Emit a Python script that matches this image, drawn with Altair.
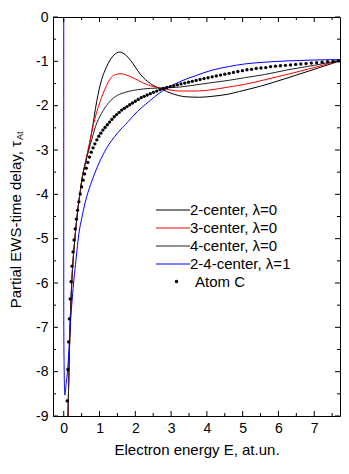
import altair as alt
import pandas as pd

# ---- data ----
E_2c = [0.10,0.12,0.14,0.16,0.18,0.20,0.23,0.26,0.30,0.34,0.40,0.45,0.52,0.60,0.70,0.79,0.92,1.06,1.15,1.24,1.32,1.40,1.48,1.57,1.65,1.72,1.80,1.87,2.00,2.14,2.28,2.42,2.74,3.00,3.42,3.80,4.14,4.60,4.91,5.50,6.27,7.00,7.72]
T_2c = [-9.8,-9.0,-8.2,-7.5,-6.9,-6.45,-5.9,-5.5,-5.1,-4.75,-4.3,-4.0,-3.6,-3.3,-2.95,-2.56,-1.91,-1.41,-1.21,-1.05,-0.94,-0.86,-0.81,-0.79,-0.81,-0.85,-0.91,-0.98,-1.13,-1.29,-1.41,-1.50,-1.63,-1.72,-1.80,-1.81,-1.79,-1.74,-1.68,-1.56,-1.37,-1.18,-0.99]

E_3c = [0.10,0.12,0.14,0.16,0.18,0.20,0.23,0.26,0.30,0.34,0.40,0.45,0.52,0.60,0.70,0.83,0.97,1.15,1.33,1.45,1.60,1.75,1.96,2.20,2.42,2.74,3.00,3.24,3.70,4.14,4.60,5.05,5.60,6.27,7.00,7.72]
T_3c = [-9.8,-9.0,-8.2,-7.5,-6.9,-6.45,-5.9,-5.5,-5.1,-4.75,-4.3,-4.0,-3.6,-3.3,-2.92,-2.42,-2.02,-1.63,-1.36,-1.30,-1.28,-1.31,-1.38,-1.48,-1.55,-1.61,-1.65,-1.67,-1.67,-1.64,-1.58,-1.52,-1.42,-1.29,-1.14,-0.98]

E_4c = [0.10,0.12,0.14,0.16,0.18,0.20,0.23,0.26,0.30,0.34,0.40,0.45,0.52,0.60,0.70,0.79,0.88,1.06,1.24,1.40,1.60,1.80,2.06,2.42,2.74,3.24,3.70,4.14,4.60,5.05,5.60,6.27,7.00,7.72]
T_4c = [-9.8,-9.0,-8.2,-7.5,-6.9,-6.45,-5.9,-5.5,-5.1,-4.75,-4.3,-4.0,-3.62,-3.32,-3.0,-2.75,-2.49,-2.17,-1.95,-1.82,-1.73,-1.68,-1.64,-1.61,-1.60,-1.58,-1.53,-1.48,-1.43,-1.37,-1.30,-1.19,-1.09,-0.98]

E_24 = [0.0,0.001,0.012,0.03,0.07,0.11,0.18,0.25,0.34,0.43,0.50,0.60,0.75,0.88,1.00,1.19,1.50,1.80,2.06,2.33,2.74,3.24,3.70,4.14,4.60,5.05,5.60,6.27,7.00,7.72]
T_24 = [0.0,-6.84,-7.96,-8.53,-8.25,-7.96,-7.0,-6.23,-5.5,-4.85,-4.55,-4.18,-3.78,-3.50,-3.27,-2.97,-2.62,-2.36,-2.13,-1.94,-1.68,-1.46,-1.32,-1.20,-1.12,-1.06,-1.02,-0.99,-0.97,-0.96]

dots_E = [0.097,0.115,0.135,0.157,0.180,0.205,0.231,0.259,0.289,0.320,
          0.353,0.387,0.423,0.461,0.500,0.541,0.583,0.627,0.673,0.720,
          0.769,0.819,0.871,0.925,0.980,1.037,1.095,1.155,1.217,1.280,
          1.345,1.411,1.479,1.549,1.620,1.693,1.767,1.843,1.921,2.000,
          2.081,2.163,2.247,2.333,2.420,2.509,2.599,2.691,2.785,2.880,
          2.977,3.075,3.175,3.277,3.380,3.485,3.591,3.699,3.809,3.920,
          4.033,4.147,4.263,4.381,4.500,4.621,4.743,4.867,4.993,5.120,
          5.249,5.379,5.511,5.645,5.780,5.917,6.055,6.195,6.337,6.480,
          6.625,6.771,6.919,7.069,7.220,7.373,7.527,7.683]
dots_T = [-8.66,-7.95,-7.33,-6.81,-6.36,-5.97,-5.62,-5.30,-5.03,-4.78,
          -4.56,-4.36,-4.17,-3.99,-3.83,-3.68,-3.54,-3.41,-3.28,-3.16,
          -3.05,-2.95,-2.86,-2.77,-2.69,-2.62,-2.55,-2.49,-2.43,-2.37,
          -2.31,-2.25,-2.20,-2.15,-2.10,-2.06,-2.02,-1.98,-1.94,-1.90,
          -1.86,-1.82,-1.79,-1.76,-1.73,-1.70,-1.67,-1.64,-1.61,-1.59,
          -1.57,-1.55,-1.53,-1.51,-1.49,-1.47,-1.45,-1.43,-1.41,-1.39,
          -1.37,-1.35,-1.33,-1.31,-1.29,-1.27,-1.25,-1.23,-1.21,-1.19,
          -1.18,-1.16,-1.15,-1.14,-1.12,-1.11,-1.10,-1.09,-1.08,-1.07,
          -1.06,-1.05,-1.04,-1.03,-1.02,-1.01,-1.00,-0.99]

names = ["2-center, λ=0", "3-center, λ=0", "4-center, λ=0", "2-4-center, λ=1"]
colors = ["#000000", "#ff0000", "#222222", "#0000ff"]
dot_label = "Atom C"

x_major = [0, 1, 2, 3, 4, 5, 6, 7]
x_minor = [0.5, 1.5, 2.5, 3.5, 4.5, 5.5, 6.5, 7.5]
y_major = [0, -1, -2, -3, -4, -5, -6, -7, -8, -9]
y_minor = [-0.5, -1.5, -2.5, -3.5, -4.5, -5.5, -6.5, -7.5, -8.5]

# ---- build tables ----
rows = []
for nm, Es, Ts in zip(names, [E_2c, E_3c, E_4c, E_24], [T_2c, T_3c, T_4c, T_24]):
    assert len(Es) == len(Ts)
    for i, (e, t) in enumerate(zip(Es, Ts)):
        rows.append({"series": nm, "E": e, "tau": t, "i": i})
df = pd.DataFrame(rows)
assert len(dots_E) == len(dots_T)
dfd = pd.DataFrame({"E": dots_E, "tau": dots_T, "lab": dot_label})

W, H = 287, 399
FONT = "Liberation Sans"
xs = alt.Scale(domain=[-0.3, 7.72], nice=False, zero=False)
ys = alt.Scale(domain=[-9, 0], nice=False, zero=False)

x_axis = alt.Axis(title="Electron energy E, at.un.", values=x_major, ticks=False,
                  domain=False, grid=False, labelFont=FONT, labelFontSize=14,
                  labelColor="black", labelPadding=5, labelFlush=False,
                  titleFont=FONT, titleFontSize=15, titleFontWeight="normal",
                  titleColor="black", titlePadding=7)
y_axis = alt.Axis(title=None, values=y_major, ticks=False, domain=False, grid=False,
                  labelFont=FONT, labelFontSize=14, labelColor="black",
                  labelPadding=5, labelFlush=False, labelExpr="'' + datum.value")

lines = alt.Chart(df).mark_line(strokeWidth=1, clip=True, interpolate="monotone").encode(
    x=alt.X("E:Q", scale=xs, axis=x_axis),
    y=alt.Y("tau:Q", scale=ys, axis=y_axis),
    color=alt.Color("series:N", scale=alt.Scale(domain=names, range=colors),
                    legend=alt.Legend(title=None, orient="none", legendX=111, legendY=184,
                                      symbolType="M-2,0H2", symbolSize=289,
                                      symbolStrokeWidth=1, labelFont=FONT,
                                      labelFontSize=15, labelColor="black",
                                      labelOffset=8, rowPadding=1)),
    order="i:Q",
)

dots = alt.Chart(dfd).mark_point(filled=True, size=11, color="black", opacity=1, clip=True).encode(
    x=alt.X("E:Q", scale=xs, axis=x_axis),
    y=alt.Y("tau:Q", scale=ys, axis=y_axis),
    shape=alt.Shape("lab:N", scale=alt.Scale(domain=[dot_label], range=["circle"]),
                    legend=alt.Legend(title=None, orient="none", legendX=116, legendY=257,
                                      symbolSize=12, labelFont=FONT, labelFontSize=15,
                                      labelColor="black", labelOffset=11,
                                      symbolFillColor="black")),
)

def xticks(vals, L, top):
    return alt.Chart(pd.DataFrame({"E": vals})).mark_rule(color="black", strokeWidth=1).encode(
        x=alt.X("E:Q", scale=xs, axis=x_axis),
        y=alt.value(0 if top else H), y2=alt.value(L if top else H - L))

def yticks(vals, L, right):
    return alt.Chart(pd.DataFrame({"tau": vals})).mark_rule(color="black", strokeWidth=1).encode(
        y=alt.Y("tau:Q", scale=ys, axis=y_axis),
        x=alt.value(W - L if right else 0), x2=alt.value(W if right else L))

ticks = [xticks(x_major, 5, False), xticks(x_minor, 3, False),
         xticks(x_major, 5, True), xticks(x_minor, 3, True),
         yticks(y_major, 5, False), yticks(y_minor, 3, False),
         yticks(y_major, 5, True), yticks(y_minor, 3, True)]

ytitle = alt.Chart(pd.DataFrame({"t": ["Partial EWS-time delay,  τ"]})).mark_text(
    angle=270, align="right", baseline="middle", font=FONT, fontSize=15, color="black"
).encode(x=alt.value(-37), y=alt.value(124), text="t:N")
ysub = alt.Chart(pd.DataFrame({"t": ["At"]})).mark_text(
    angle=270, align="left", baseline="middle", font=FONT, fontSize=9, color="black"
).encode(x=alt.value(-33), y=alt.value(123), text="t:N")

chart = alt.layer(lines, dots, *ticks, ytitle, ysub).properties(
    width=W, height=H,
    autosize=alt.AutoSizeParams(type="none"),
    padding={"left": 45, "top": 9, "right": 1, "bottom": 42},
).configure(font=FONT).configure_view(stroke="black", strokeWidth=1)

chart.save("out.html", embed_options={"renderer": "svg", "actions": False})
